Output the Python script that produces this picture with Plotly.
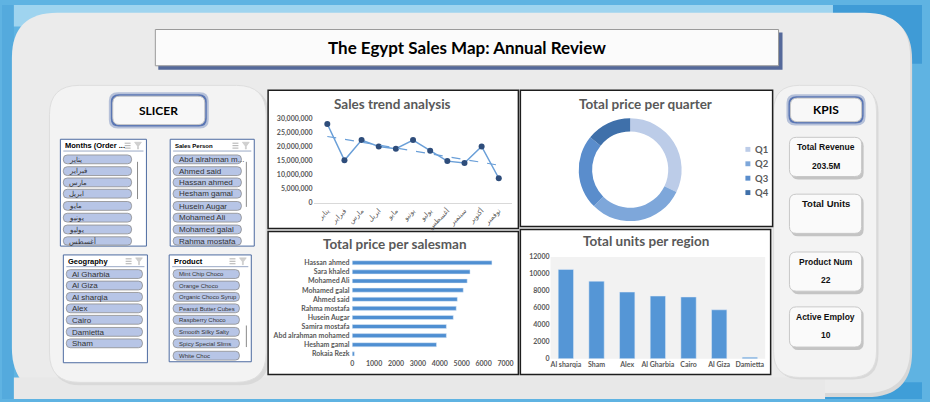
import plotly.graph_objects as go
import numpy as np

# ---------------- DATA ----------------
months = ["يناير", "فبراير", "مارس", "ابريل", "مايو", "يونيو", "يوليو", "أغسطس", "سبتمبر", "أكتوبر", "نوفمبر"]
monthly_sales = [28.1e6, 15.2e6, 22.4e6, 20.1e6, 19.3e6, 22.4e6, 18.6e6, 14.9e6, 14.2e6, 20.1e6, 8.8e6]

quarters = ["Q1", "Q2", "Q3", "Q4"]
quarter_price = [65.7, 61.8, 47.7, 28.9]
quarter_colors = ["#bccce8", "#7ea7da", "#5a8dcc", "#3f70aa"]

salesmen = ["Hassan ahmed", "Sara khaled", "Mohamed Ali", "Mohamed galal", "Ahmed said",
            "Rahma mostafa", "Husein Augar", "Samira mostafa", "Abd alrahman mohamed",
            "Hesham gamal", "Rokaia Rezk"]
salesman_price = [6380, 5380, 5250, 5070, 4800, 4750, 4615, 4300, 4300, 3850, 100]

regions = ["Al sharqia", "Sham", "Alex", "Al Gharbia", "Cairo", "Al Giza", "Damietta"]
region_units = [10530, 9140, 7860, 7390, 7280, 5770, 190]

slicer_months = ["يناير", "فبراير", "مارس", "ابريل", "مايو", "يونيو", "يوليو", "أغسطس"]
slicer_people = ["Abd alrahman m...", "Ahmed said", "Hassan ahmed", "Hesham gamal",
                 "Husein Augar", "Mohamed Ali", "Mohamed galal", "Rahma mostafa"]
slicer_geo = ["Al Gharbia", "Al Giza", "Al sharqia", "Alex", "Cairo", "Damietta", "Sham"]
slicer_products = ["Mint Chip Choco", "Orange Choco", "Organic Choco Syrup", "Peanut Butter Cubes",
                   "Raspberry Choco", "Smooth Silky Salty", "Spicy Special Slims", "White Choc"]

kpi_labels = ["Total Revenue", "Total Units", "Product Num", "Active Employ"]
kpi_values = ["203.5M", "", "22", "10"]

# ---------------- HELPERS ----------------
W, H = 930, 402
def px(x): return x / W
def py(y): return 1 - y / H

shapes = []
annotations = []

def rrect(x0, y0, x1, y1, r, fill, line="rgba(0,0,0,0)", lw=0):
    X0, X1, Y0, Y1 = px(x0), px(x1), py(y0), py(y1)
    rx, ry = r / W, r / H
    p = (f"M {X0+rx},{Y0} L {X1-rx},{Y0} Q {X1},{Y0} {X1},{Y0-ry} L {X1},{Y1+ry} "
         f"Q {X1},{Y1} {X1-rx},{Y1} L {X0+rx},{Y1} Q {X0},{Y1} {X0},{Y1+ry} "
         f"L {X0},{Y0-ry} Q {X0},{Y0} {X0+rx},{Y0} Z")
    shapes.append(dict(type="path", path=p, xref="paper", yref="paper", fillcolor=fill,
                       line=dict(color=line, width=lw), layer="below"))

def rect(x0, y0, x1, y1, fill, line="rgba(0,0,0,0)", lw=0, layer="below"):
    shapes.append(dict(type="rect", xref="paper", yref="paper", x0=px(x0), x1=px(x1),
                       y0=py(y1), y1=py(y0), fillcolor=fill, line=dict(color=line, width=lw),
                       layer=layer))

def hline(x0, x1, y, color, lw=1):
    shapes.append(dict(type="line", xref="paper", yref="paper", x0=px(x0), x1=px(x1),
                       y0=py(y), y1=py(y), line=dict(color=color, width=lw), layer="above"))

def vline(x, y0, y1, color, lw=1):
    shapes.append(dict(type="line", xref="paper", yref="paper", x0=px(x), x1=px(x),
                       y0=py(y0), y1=py(y1), line=dict(color=color, width=lw), layer="above"))

def text(x, y, s, size, color="#000", family="Liberation Sans", bold=False, xanchor="center"):
    annotations.append(dict(x=px(x), y=py(y), xref="paper", yref="paper", text=s, showarrow=False,
                            xanchor=xanchor, yanchor="middle",
                            font=dict(size=size, color=color, family=family,
                                      weight="bold" if bold else "normal")))

# ---------------- BACKGROUND ----------------
rect(0, 0, 930, 402, "#5fb3e2")
rect(0, 0, 930, 22, "#9fd4ef")
rect(0, 0, 12, 402, "#54aadd")
rect(840, 0, 930, 60, "#3f9bd6")
rect(832, 385, 930, 402, "#3f9ed8")

# main panel
rrect(12, 10, 920, 400, 46, "#d8d8d8")
rrect(10, 8, 918, 396, 46, "#ebebeb")
rect(12, 380, 832, 402, "#e8e8e8")

# title box
rect(158, 28, 789, 66, "#55699a")
rect(155, 25, 785, 62, "#fbfbfb", "#9a9a9a", 1)
text(470, 43, "The Egypt Sales Map: Annual Review", 17, "#000", "Lato", True)

# slicer panel
rrect(50, 84, 270, 388, 30, "#d9d9d9")
rrect(48, 82, 267, 385, 30, "#f3f3f3", "#dedede", 1)
# KPI panel
rrect(782, 84, 886, 382, 26, "#d9d9d9")
rrect(780, 82, 884, 380, 26, "#f3f3f3", "#dedede", 1)

# buttons with glow
for (x0, y0, x1, y1, label) in [(112, 93, 205, 122, "SLICER"), (797, 95, 869, 119, "KPIS")]:
    rrect(x0 - 4, y0 - 4, x1 + 4, y1 + 4, 9, "rgba(70,100,170,0.35)")
    rrect(x0 - 2, y0 - 2, x1 + 2, y1 + 2, 8, "#5a76b4")
    rrect(x0, y0, x1, y1, 7, "#f8f8f8", "#c8c8c8", 1)
    text((x0 + x1) / 2, (y0 + y1) / 2, label, 12, "#000", "Lato", True)

# KPI cards
kpi_boxes = [(796, 135, 869, 175), (796, 193, 869, 233), (796, 252, 869, 292), (796, 308, 869, 349)]
for (x0, y0, x1, y1), lab, val in zip(kpi_boxes, kpi_labels, kpi_values):
    rrect(x0 + 2, y0 + 2, x1 + 2, y1 + 3, 7, "#c4c4c4")
    rrect(x0, y0, x1, y1, 7, "#fafafa", "#c8c8c8", 1)
    if val:
        text((x0 + x1) / 2, y0 + 10, lab, 8.5, "#111", "Liberation Sans", True)
        text((x0 + x1) / 2, y0 + 29, val, 8.5, "#111", "Liberation Sans", True)
    else:
        text((x0 + x1) / 2, y0 + 10, lab, 9.5, "#111", "Liberation Sans", True)

# slicers
def slicer(x0, y0, x1, y1, header, hsize, items, tops, ix0, ix1, isize, scroll=None):
    rect(x0, y0, x1, y1, "#ffffff", "#4c6aa0", 1)
    text(x0 + 3, y0 + 6.5, header, hsize, "#000", "Liberation Sans", True, "left")
    hline(x0 + 3, x1 - 3, y0 + 12, "#9aa9c6", 1)
    for k in range(3):
        hline(x1 - 22, x1 - 16, y0 + 4 + k * 2.5, "#9a9a9a", 0.8)
    shapes.append(dict(type="path", xref="paper", yref="paper", layer="above",
                       path=f"M {px(x1-12)},{py(y0+3)} L {px(x1-5)},{py(y0+3)} L {px(x1-8)},{py(y0+7)} "
                            f"L {px(x1-8)},{py(y0+10)} L {px(x1-9)},{py(y0+10)} L {px(x1-9)},{py(y0+7)} Z",
                       fillcolor="#d0d0d0", line=dict(color="#c0c0c0", width=0.5)))
    for it, t in zip(items, tops):
        b = min(t + 9, y1 - 1)
        rrect(ix0, t, ix1, b, 4, "#b7c5e6", "#8d8d8d", 0.8)
        if t + 5 < y1:
            text(ix0 + 4, t + 4.7, it, isize, "#333", "Liberation Sans", False, "left")
    if scroll:
        vline(scroll[0], scroll[1], scroll[2], "#8a8a8a", 1)

tops1 = [153, 165, 176.5, 188, 200.5, 212.5, 224.5, 236.5]
slicer(59, 137, 146, 246, "Months (Order ...", 7.5, slicer_months, tops1, 62, 131, 6.5, (137, 160, 198))
slicer(170, 137, 255, 246, "Sales Person", 6, slicer_people, tops1, 173, 242, 8, (247, 160, 206))
tops2 = [270, 281.7, 293.3, 305, 316.7, 329, 340.7, 353.3]
slicer(62, 255, 147, 365, "Geography", 7.5, slicer_geo, tops2, 65, 142, 8)
slicer(169, 255, 252, 364, "Product", 7.5, slicer_products, tops2, 173, 240, 6, (247, 327, 349))

# chart boxes
chart_boxes = [(269, 87, 522, 228), (524, 87, 779, 226), (269, 231, 522, 377), (524, 229, 777, 377)]
for (x0, y0, x1, y1) in chart_boxes:
    rect(x0, y0, x1, y1, "#ffffff", "#1e1e1e", 1.5)

# region plot area background
rect(554.5, 257, 771.5, 361, "#f2f2f2")

# chart titles
TC = "#595959"
text(395, 101, "Sales trend analysis", 13.5, TC, "Lato", True)
text(650, 101, "Total price per quarter", 13.5, TC, "Lato", True)
text(397, 244, "Total price per salesman", 13.5, TC, "Lato", True)
text(651, 241, "Total units per region", 13.5, TC, "Lato", True)

# pie legend (built from the quarter list)
for i, (q, c) in enumerate(zip(quarters, quarter_colors)):
    yy = 147.3 + i * 14.7
    rect(751.5, yy - 2.5, 756.5, yy + 2.5, c, layer="above")
    text(759, yy, q, 9.5, TC, "Lato", True, "left")

# ---------------- TRACES ----------------
fig = go.Figure()

idx = np.arange(len(monthly_sales))
coef = np.polyfit(idx, monthly_sales, 1)
trend = np.polyval(coef, idx)

fig.add_trace(go.Scatter(x=months, y=monthly_sales, mode="lines+markers",
                         line=dict(color="#6a9fd8", width=1.5),
                         marker=dict(color="#2e4d7b", size=6), showlegend=False,
                         xaxis="x", yaxis="y", hoverinfo="skip"))
fig.add_trace(go.Scatter(x=months, y=trend, mode="lines",
                         line=dict(color="#6a9fd8", width=1.2, dash="dash"), showlegend=False,
                         xaxis="x", yaxis="y", hoverinfo="skip"))

fig.add_trace(go.Pie(labels=quarters, values=quarter_price, hole=0.74, sort=False,
                     direction="clockwise", rotation=0, textinfo="none",
                     marker=dict(colors=quarter_colors, line=dict(color="#ffffff", width=0)),
                     domain=dict(x=[px(582.5), px(687.5)], y=[py(220.5), py(115.5)]),
                     showlegend=False, hoverinfo="skip"))

fig.add_trace(go.Bar(x=salesman_price, y=salesmen, orientation="h", width=0.45,
                     marker=dict(color="#4f8fd2"), showlegend=False,
                     xaxis="x2", yaxis="y2", hoverinfo="skip"))

fig.add_trace(go.Bar(x=regions, y=region_units, marker=dict(color="#5596d6"), width=0.5,
                     showlegend=False, xaxis="x3", yaxis="y3", hoverinfo="skip"))

tick = dict(size=7, color=TC, family="Lato", weight="bold")

fig.update_layout(
    width=W, height=H, margin=dict(l=0, r=0, t=0, b=0),
    paper_bgcolor="#5fb3e2", plot_bgcolor="rgba(0,0,0,0)",
    shapes=shapes, annotations=annotations, showlegend=False,
    xaxis=dict(domain=[px(315), px(516)], anchor="y", showgrid=False, showline=True,
               linecolor="#d9d9d9", tickangle=-45, ticks="",
               tickfont=dict(size=7, color=TC, family="DejaVu Sans")),
    yaxis=dict(domain=[py(202), py(116)], anchor="x", range=[0, 30e6], dtick=5e6,
               tickformat=",d", showgrid=False, zeroline=False, tickfont=tick),
    xaxis2=dict(domain=[px(354), px(509)], anchor="y2", range=[0, 7000], dtick=1000,
                showgrid=False, zeroline=False, tickfont=tick),
    yaxis2=dict(domain=[py(360.6), py(258.4)], anchor="x2", autorange="reversed",
                showgrid=False, tickfont=tick, ticksuffix=" "),
    xaxis3=dict(domain=[px(554.5), px(771.5)], anchor="y3", showgrid=False, tickfont=tick),
    yaxis3=dict(domain=[py(361), py(257)], anchor="x3", range=[0, 12000], dtick=2000,
                showgrid=False, zeroline=False, tickformat="d", tickfont=tick),
)

fig.write_html("out.html")
